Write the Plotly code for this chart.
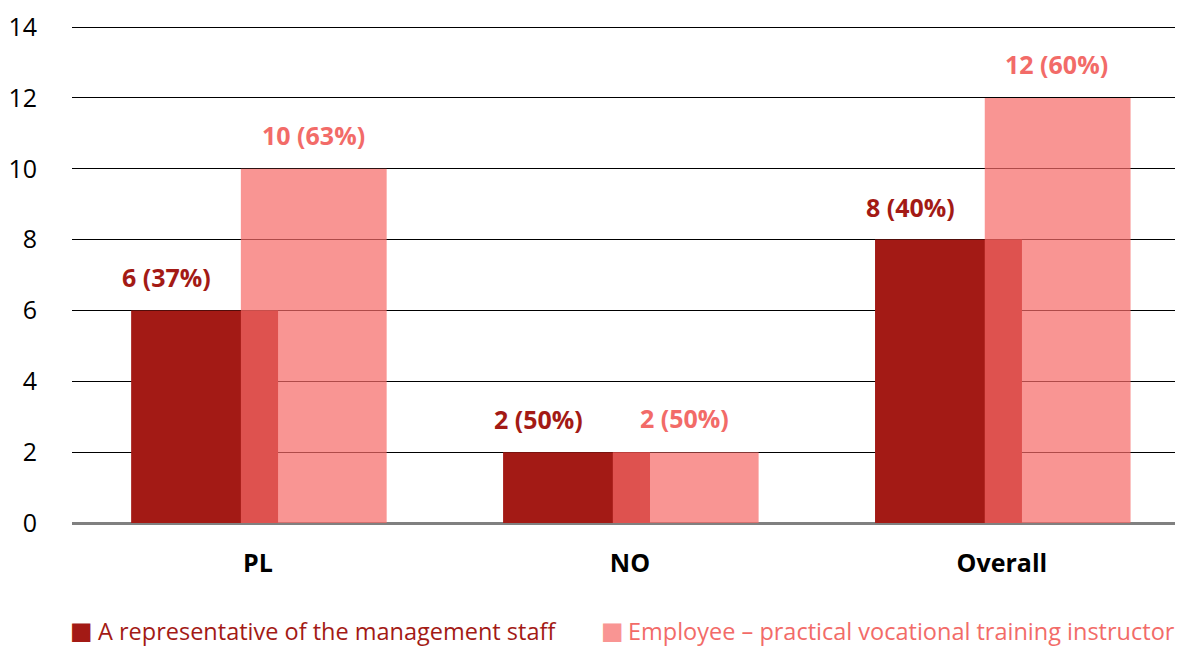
import plotly.graph_objects as go

categories = ["PL", "NO", "Overall"]
management = [6, 2, 8]
management_pct = [37, 50, 40]
instructor = [10, 2, 12]
instructor_pct = [63, 50, 60]
series_names = ["A representative of the management staff",
                "Employee \u2013 practical vocational training instructor"]

DARK = "#A31A15"
PINK_LABEL = "#F26B68"
PINK_SWATCH = "#F99593"
PINK_FILL = "rgba(247,106,103,0.71)"
FONT = "Open Sans"

# the page body adds an 8px offset, so the figure is 8px smaller than the window
OFF = 8
W, H = 1183 - OFF, 648 - OFF
ML, MR, MT, MB = 72 - OFF, 0, 26 - OFF, 125
PW, PH = W - ML - MR, H - MT - MB

x_idx = list(range(len(categories)))

fig = go.Figure()
fig.add_trace(go.Bar(
    x=x_idx, y=management, name=series_names[0],
    marker=dict(color=DARK, line=dict(width=0)),
    width=0.395, offset=-0.341, hoverinfo="y", showlegend=False,
))
fig.add_trace(go.Bar(
    x=x_idx, y=instructor, name=series_names[1],
    marker=dict(color=PINK_FILL, line=dict(width=0)),
    width=0.392, offset=-0.046, hoverinfo="y", showlegend=False,
))

for i, (v, p) in enumerate(zip(management, management_pct)):
    fig.add_annotation(x=i - 0.245, y=v, text=f"<b>{v} ({p}%)</b>", showarrow=False,
                       yanchor="middle", yshift=33,
                       font=dict(family=FONT, size=25, color=DARK))
for i, (v, p) in enumerate(zip(instructor, instructor_pct)):
    fig.add_annotation(x=i + 0.148, y=v, text=f"<b>{v} ({p}%)</b>", showarrow=False,
                       yanchor="middle", yshift=34,
                       font=dict(family=FONT, size=25, color=PINK_LABEL))

# legend drawn as text (swatch + label) in page pixel positions
def px_x(px):
    return (px - OFF - ML) / PW

def px_y(py):
    return (MT + PH - (py - OFF)) / PH

legend_cy = 631
legend_items = [
    (series_names[0], DARK, DARK, 69, 97),
    (series_names[1], PINK_SWATCH, PINK_LABEL, 600, 627),
]
for name, swatch_col, text_col, sx, tx in legend_items:
    fig.add_annotation(xref="paper", yref="paper", x=px_x(sx), y=px_y(legend_cy),
                       xanchor="left", yanchor="middle", showarrow=False, text="\u25A0",
                       borderpad=0, font=dict(family="DejaVu Sans", size=24, color=swatch_col))
    fig.add_annotation(xref="paper", yref="paper", x=px_x(tx), y=px_y(legend_cy),
                       xanchor="left", yanchor="middle", showarrow=False, text=name,
                       borderpad=0, font=dict(family=FONT, size=23.5, color=text_col))

fig.update_layout(
    width=W, height=H,
    margin=dict(l=ML, r=MR, t=MT, b=MB, pad=0),
    barmode="overlay",
    plot_bgcolor="white", paper_bgcolor="white",
    font=dict(family=FONT, size=25, color="black"),
    showlegend=False,
    xaxis=dict(
        range=[-0.5, 2.487], tickmode="array", tickvals=x_idx,
        ticktext=[f"<b>{c}</b>" for c in categories],
        showgrid=False, zeroline=False, showline=False, ticks="",
        ticklabelstandoff=23, tickfont=dict(family=FONT, size=25, color="black"),
        fixedrange=True,
    ),
    yaxis=dict(
        range=[0, 14.03], tickmode="array", tickvals=[0, 2, 4, 6, 8, 10, 12, 14],
        showgrid=True, gridcolor="black", gridwidth=1,
        zeroline=True, zerolinecolor="#808080", zerolinewidth=3,
        showline=False, ticks="", ticklabelstandoff=34,
        tickfont=dict(family=FONT, size=25, color="black"),
        fixedrange=True,
    ),
)

fig.write_html("out.html")
